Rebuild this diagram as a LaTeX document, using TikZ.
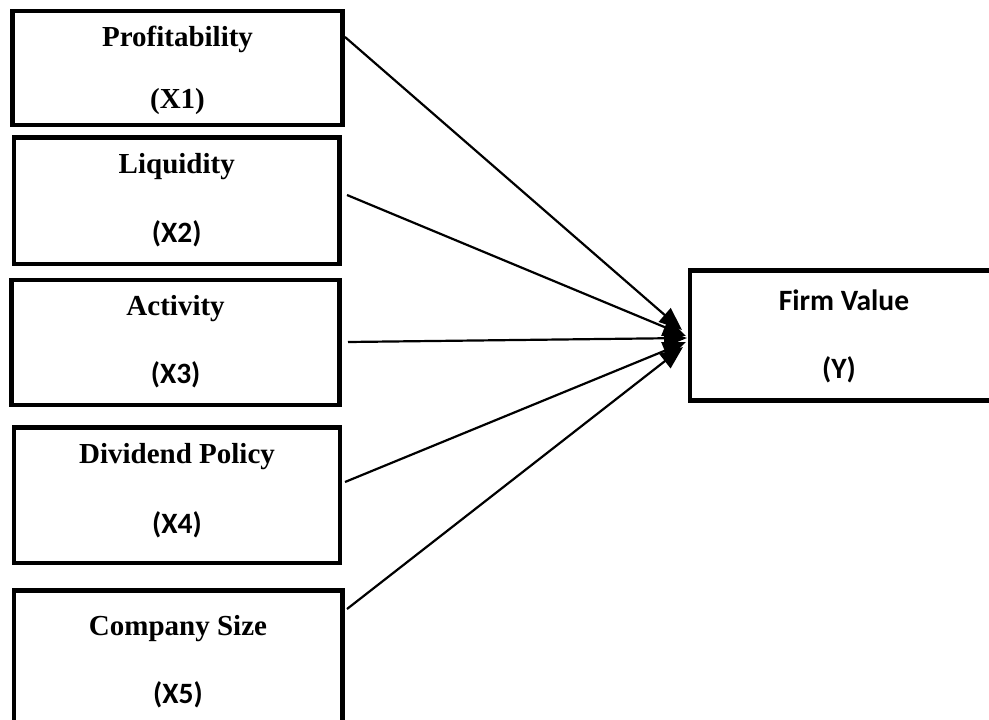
\documentclass[tikz,border=0pt]{standalone}
\usepackage{fontspec}
\setmainfont{Liberation Serif}
\newfontfamily\calib{Carlito}
\usetikzlibrary{arrows.meta}
\tikzset{
  box/.style={draw=black, line width=4.8pt, fill=white},
  ttl/.style={anchor=base, inner sep=0pt, font=\fontsize{29}{32}\selectfont\bfseries},
  cde/.style={anchor=base, inner sep=0pt, font=\fontsize{29.5}{32}\selectfont\calib\bfseries},
  cdeserif/.style={anchor=base, inner sep=0pt, font=\fontsize{29}{32}\selectfont\bfseries},
  link/.style={line width=2.2pt, -{Triangle[length=23pt,width=18pt,fill=black]}}
}
\begin{document}
\begin{tikzpicture}[x=1pt,y=-1pt]
\useasboundingbox (0,0) rectangle (989,720);
% boxes
\draw[box] (12.5,11) rectangle (342.5,125);
\draw[box] (14,137.5) rectangle (339.5,264);
\draw[box] (11.7,280) rectangle (339.5,405);
\draw[box] (14,427.5) rectangle (340,563);
\draw[box] (14,590.5) rectangle (342.5,730);
\draw[box] (690,270.5) rectangle (1000,400.5);
% texts
\node[ttl] (t1) at (177.5,46) {Profitability};
\node[cdeserif] (c1) at (177.5,108) {(X1)};
\node[ttl] (t2) at (176.75,173) {Liquidity};
\node[cde] (c2) at (176.75,242) {(X2)};
\node[ttl] (t3) at (175.6,315) {Activity};
\node[cde] (c3) at (175.6,383) {(X3)};
\node[ttl] (t4) at (177,463) {Dividend Policy};
\node[cde] (c4) at (177,533) {(X4)};
\node[ttl] (t5) at (178,635) {Company Size};
\node[cde] (c5) at (178,703) {(X5)};
\node[cde] (ty) at (844,310) {Firm Value};
\node[cde] (cy) at (839,378) {(Y)};
% connector endpoints
\coordinate (s1) at (345,37);
\coordinate (s2) at (347,195);
\coordinate (s3) at (348,342);
\coordinate (s4) at (345,482);
\coordinate (s5) at (347,609);
\coordinate (e1) at (682,330);
\coordinate (e2) at (686,336);
\coordinate (e3) at (687,338);
\coordinate (e4) at (686,342);
\coordinate (e5) at (683,347);
\draw[link] (s1) -- (e1);
\draw[link] (s2) -- (e2);
\draw[link] (s3) -- (e3);
\draw[link] (s4) -- (e4);
\draw[link] (s5) -- (e5);
\end{tikzpicture}
\end{document}
